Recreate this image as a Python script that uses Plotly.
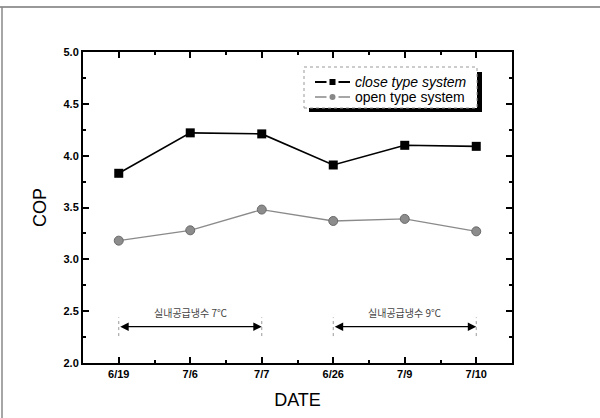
import plotly.graph_objects as go

dates = ["6/19", "7/6", "7/7", "6/26", "7/9", "7/10"]
close_cop = [3.83, 4.22, 4.21, 3.91, 4.10, 4.09]
open_cop = [3.18, 3.28, 3.48, 3.37, 3.39, 3.27]
series_names = ["close type system", "open type system"]
range_labels = ["실내공급냉수 7℃", "실내공급냉수 9℃"]
range_spans = [(0, 2), (3, 5)]
arrow_level = 2.35
label_level = 2.49

idx = list(range(len(dates)))
FONT = "Liberation Sans, Arial, sans-serif"

# plot-area geometry in pixels (for paper-coordinate decorations)
L, R, T, B = 83, 512, 52, 363
W, H = R - L, B - T


def px(xp):
    return (xp - L) / W


def py(yp):
    return (B - yp) / H


fig = go.Figure()
fig.add_trace(go.Scatter(
    x=idx, y=close_cop, name=series_names[0], mode="lines+markers",
    line=dict(color="black", width=1.6),
    marker=dict(symbol="square", size=9, color="black"),
))
fig.add_trace(go.Scatter(
    x=idx, y=open_cop, name=series_names[1], mode="lines+markers",
    line=dict(color="#8a8a8a", width=1.3),
    marker=dict(symbol="circle", size=9, color="#8c8c8c",
                line=dict(color="#6a6a6a", width=1)),
))

for (a, b), lab in zip(range_spans, range_labels):
    fig.add_annotation(x=b, y=arrow_level, ax=a, ay=arrow_level,
                       xref="x", yref="y", axref="x", ayref="y",
                       text="", showarrow=True, arrowhead=2, arrowside="end+start",
                       arrowsize=1.3, arrowwidth=1.3, arrowcolor="black",
                       standoff=0, startstandoff=0)
    for xv in (a, b):
        fig.add_shape(type="line", x0=xv, x1=xv, y0=arrow_level - 0.09, y1=arrow_level + 0.09,
                      xref="x", yref="y", line=dict(color="#999999", width=1, dash="dot"))
    fig.add_annotation(x=(a + b) / 2, y=label_level, xref="x", yref="y", text=lab,
                       showarrow=False, font=dict(size=10, color="#444444", family="Noto Sans CJK KR"))

# manual legend: shadow, box, symbols, texts
fig.add_shape(type="rect", xref="paper", yref="paper",
              x0=px(309), x1=px(482), y0=py(112), y1=py(72),
              fillcolor="black", line=dict(width=0))
fig.add_shape(type="rect", xref="paper", yref="paper",
              x0=px(304), x1=px(477), y0=py(108), y1=py(67),
              fillcolor="white", line=dict(color="#999999", width=1, dash="dot"))
legend_rows = [
    dict(y=82, color="black", lw=2, sym="rect", style="italic"),
    dict(y=97, color="#888888", lw=1.5, sym="circle", style="normal"),
]
for name, row in zip(series_names, legend_rows):
    yc = row["y"]
    fig.add_shape(type="line", xref="paper", yref="paper", x0=px(315), x1=px(350),
                  y0=py(yc), y1=py(yc), line=dict(color=row["color"], width=row["lw"]))
    fig.add_shape(type="line", xref="paper", yref="paper", x0=px(326.5), x1=px(338.5),
                  y0=py(yc), y1=py(yc), line=dict(color="white", width=4))
    fig.add_shape(type=row["sym"], xref="paper", yref="paper", x0=px(329.5), x1=px(335.5),
                  y0=py(yc + 3), y1=py(yc - 3), fillcolor=row["color"], line=dict(width=0))
    fig.add_annotation(xref="paper", yref="paper", x=px(353), y=py(yc), text=name,
                       xanchor="left", yanchor="middle", showarrow=False,
                       font=dict(size=14, family=FONT, style=row["style"], color="black"))

fig.update_layout(
    width=600, height=418,
    margin=dict(l=L, r=600 - R, t=T, b=418 - B),
    paper_bgcolor="white", plot_bgcolor="white",
    font=dict(family=FONT, color="black"),
    showlegend=False,
    xaxis=dict(range=[-0.5, 5.5], tickmode="array", tickvals=idx, ticktext=dates,
               showgrid=False, zeroline=False, showline=True, linecolor="black", linewidth=2,
               mirror="ticks", ticks="inside", ticklen=6, tickwidth=1.5, tickcolor="black",
               minor=dict(dtick=0.5, tick0=0, ticks="inside", ticklen=3, tickwidth=1.5, tickcolor="black"),
               tickfont=dict(size=11, family=FONT, weight="bold"),
               title=dict(text="DATE", font=dict(size=18, family=FONT), standoff=14)),
    yaxis=dict(range=[2.0, 5.0], dtick=0.5, tick0=2.0, tickformat=".1f",
               showgrid=False, zeroline=False, showline=True, linecolor="black", linewidth=2,
               mirror="ticks", ticks="inside", ticklen=6, tickwidth=1.5, tickcolor="black",
               minor=dict(dtick=0.25, ticks="inside", ticklen=3, tickwidth=1.5, tickcolor="black"),
               tickfont=dict(size=11, family=FONT, weight="bold"),
               title=dict(text="COP", font=dict(size=18, family=FONT), standoff=12)),
)

# scan frame
fig.add_shape(type="line", xref="paper", yref="paper", x0=px(0), x1=px(600),
              y0=py(7), y1=py(7), line=dict(color="#777777", width=1.5))
fig.add_shape(type="line", xref="paper", yref="paper", x0=px(2), x1=px(2),
              y0=py(418), y1=py(7), line=dict(color="#888888", width=1.5))

fig.write_html("out.html")
